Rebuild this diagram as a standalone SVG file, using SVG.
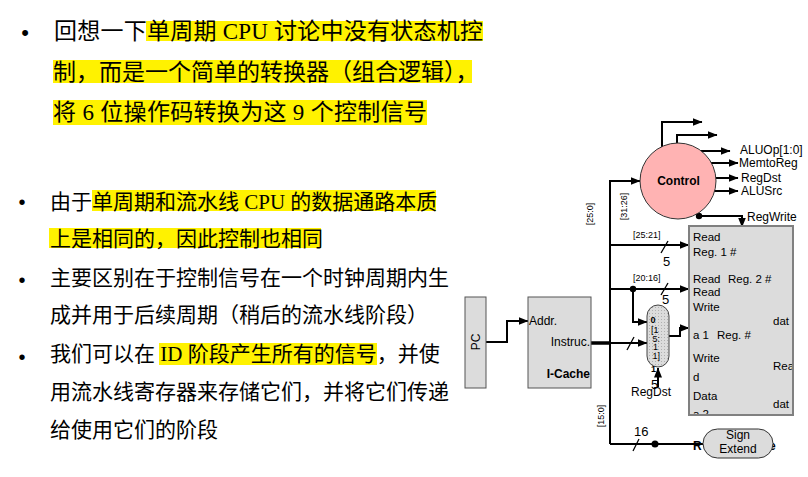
<svg xmlns="http://www.w3.org/2000/svg" width="808" height="477" viewBox="0 0 808 477">
<defs>
<marker id="ah" markerWidth="10" markerHeight="8" refX="9.5" refY="4" orient="auto" markerUnits="userSpaceOnUse"><path d="M0,0 L10,4 L0,8 z" fill="#000"/></marker>
<pattern id="dots" width="3" height="3" patternUnits="userSpaceOnUse"><rect width="3" height="3" fill="#dcdcdc"/><rect x="1" y="1" width="1" height="1" fill="#b0b0b0"/></pattern>
<clipPath id="rfclip"><rect x="689" y="226" width="104" height="189"/></clipPath>
</defs>
<style>
.t1{font-family:"Liberation Serif","Noto Sans CJK SC",serif;font-size:23px;fill:#000}
.t2{font-family:"Liberation Serif","Noto Sans CJK SC",serif;font-size:21px;fill:#000}
.bul{font-family:"Liberation Sans",sans-serif;fill:#000}
.hl{fill:#fff200}
.lbl{font-family:"Liberation Sans",Arial,sans-serif;font-size:12px;fill:#000}
.rf{font-family:"Liberation Sans",Arial,sans-serif;font-size:11.5px;fill:#000}
.sm{font-family:"Liberation Sans",Arial,sans-serif;font-size:9px;fill:#000}
.num{font-family:"Liberation Sans",Arial,sans-serif;font-size:13px;fill:#000}
.box{fill:#dcdcdc;stroke:#555;stroke-width:1}
.w{fill:none;stroke:#000;stroke-width:2}
.wa{fill:none;stroke:#000;stroke-width:2;marker-end:url(#ah)}
.sl{fill:none;stroke:#000;stroke-width:1.3}
</style>

<g id="text-block-1">
<rect class="hl" x="146" y="21" width="337" height="20"/>
<rect class="hl" x="53" y="60" width="419" height="23"/>
<rect class="hl" x="53" y="100" width="374" height="25"/>
<text class="bul" x="25" y="40" font-size="22" text-anchor="middle">•</text>
<text class="t1" x="54" y="39" textLength="429" lengthAdjust="spacing">回想一下单周期 CPU 讨论中没有状态机控</text>
<text class="t1" x="53" y="80">制，而是一个简单的转换器（组合逻辑），</text>
<text class="t1" x="53" y="120" textLength="374" lengthAdjust="spacing">将 6 位操作码转换为这 9 个控制信号</text>
</g>

<g id="text-block-2">
<rect class="hl" x="92" y="190" width="344" height="21"/>
<rect class="hl" x="49" y="228" width="272" height="20"/>
<rect class="hl" x="159" y="343" width="218" height="22"/>
<text class="bul" x="22" y="209" font-size="20" text-anchor="middle">•</text>
<text class="t2" x="50" y="209">由于单周期和流水线 CPU 的数据通路本质</text>
<text class="t2" x="50" y="246">上是相同的，因此控制也相同</text>
<text class="bul" x="22" y="287" font-size="20" text-anchor="middle">•</text>
<text class="t2" x="50" y="285">主要区别在于控制信号在一个时钟周期内生</text>
<text class="t2" x="50" y="322">成并用于后续周期（稍后的流水线阶段）</text>
<text class="bul" x="22" y="364" font-size="20" text-anchor="middle">•</text>
<text class="t2" x="50" y="361">我们可以在 ID 阶段产生所有的信号，并使</text>
<text class="t2" x="50" y="399">用流水线寄存器来存储它们，并将它们传递</text>
<text class="t2" x="50" y="437">给使用它们的阶段</text>
</g>

<g id="connectors">
<path class="wa" d="M486,342 H507 V321 H528"/>
<path d="M591,343 H610" fill="none" stroke="#000" stroke-width="3.5"/>
<path class="wa" d="M610,444 V181 H640"/>
<path class="w" d="M610,444 H703"/>
<path class="wa" d="M610,245 H689"/>
<path class="wa" d="M610,289 H689"/>
<path class="wa" d="M633,289 V322 H647"/>
<path class="wa" d="M610,343 H647"/>
<path class="wa" d="M669,336 H680 V328 H689"/>
<path class="wa" d="M658,387 V368"/>
<path class="wa" d="M662,147 V122 H702"/>
<path class="wa" d="M677,143 V135 H717"/>
<path class="wa" d="M701,151 H730"/>
<path class="wa" d="M711,163 H738"/>
<path class="wa" d="M716,178 H738"/>
<path class="wa" d="M714,191 H738"/>
<path class="wa" d="M699,216 H742 V227"/>
<circle cx="633" cy="289" r="3.2" fill="#000"/>
<circle cx="699" cy="216" r="3.2" fill="#000"/>
<circle cx="655" cy="444" r="3.5" fill="#000"/>
<path class="sl" d="M661,253 L668,241"/>
<path class="sl" d="M661,295 L668,283"/>
<path class="sl" d="M627,350 L634,337"/>
<path class="sl" d="M633,451 L639,439"/>
<text class="sm" x="633" y="238">[25:21]</text>
<text class="sm" x="633" y="281">[20:16]</text>
<text class="num" x="663" y="266">5</text>
<text class="num" x="662" y="304">5</text>
<text class="num" x="651" y="389">5</text>
<text class="num" x="634" y="436" font-size="12">16</text>
<text class="sm" transform="translate(593,214) rotate(-90)" text-anchor="middle">[25:0]</text>
<text class="sm" transform="translate(626.5,206.5) rotate(-90)" text-anchor="middle">[31:26]</text>
<text class="sm" transform="translate(604,416) rotate(-90)" text-anchor="middle">[15:0]</text>
<text class="lbl" x="740" y="154">ALUOp[1:0]</text>
<text class="lbl" x="739" y="167">MemtoReg</text>
<text class="lbl" x="741" y="182">RegDst</text>
<text class="lbl" x="741" y="195">ALUSrc</text>
<text class="lbl" x="747" y="221">RegWrite</text>
<text class="lbl" x="631" y="396" font-size="14">RegDst</text>
<text class="lbl" x="693" y="450" font-size="14" font-weight="bold">R</text>
<text class="lbl" x="769" y="450" font-size="14" font-weight="bold">e</text>
</g>

<g id="pc">
<rect class="box" x="465" y="297" width="21" height="91"/>
<text class="lbl" font-size="13" transform="translate(479.5,342) rotate(-90)" text-anchor="middle">PC</text>
</g>

<g id="icache">
<rect class="box" x="528" y="297" width="63" height="91"/>
<text class="lbl" x="529" y="325" font-size="11">Addr.</text>
<text class="lbl" x="590" y="346" font-size="11.5" text-anchor="end">Instruc.</text>
<text class="lbl" x="590" y="378" font-size="14" font-weight="bold" text-anchor="end">I-Cache</text>
</g>

<g id="control">
<circle cx="678" cy="181" r="38" fill="#ffb3b3" stroke="#333" stroke-width="1"/>
<text class="lbl" x="678.5" y="185" font-weight="bold" text-anchor="middle">Control</text>
</g>

<g id="regfile">
<rect x="689" y="226" width="104" height="189" fill="#dcdcdc"/>
<g clip-path="url(#rfclip)">
<text class="rf" x="693" y="241">Read</text>
<text class="rf" x="693" y="256">Reg. 1 #</text>
<text class="rf" x="693" y="283">Read <tspan x="728">Reg. 2 #</tspan></text>
<text class="rf" x="693" y="296">Read</text>
<text class="rf" x="693" y="311" font-size="11">Write</text>
<text class="rf" x="773" y="325">dat</text>
<text class="rf" x="693" y="339">a 1 <tspan x="717">Reg. #</tspan></text>
<text class="rf" x="693" y="362" font-size="11">Write</text>
<text class="rf" x="773" y="370">Rea</text>
<text class="rf" x="693" y="381" font-size="11">d</text>
<text class="rf" x="693" y="400" font-size="11">Data</text>
<text class="rf" x="773" y="408">dat</text>
<text class="rf" x="693" y="418">a 2</text>
</g>
<rect x="689" y="226" width="104" height="189" fill="none" stroke="#808080" stroke-width="2"/>
</g>

<g id="mux">
<rect x="647" y="305" width="22" height="62" rx="11" ry="11" fill="url(#dots)" stroke="#444" stroke-width="1"/>
<text class="sm" x="650.5" y="323" font-size="10" font-weight="bold">0</text>
<text class="sm" x="651" y="333" font-size="8.5">[1</text>
<text class="sm" x="652.5" y="341.5" font-size="8.5">5:</text>
<text class="sm" x="653" y="350" font-size="8.5">1</text>
<text class="sm" x="652.5" y="359" font-size="8.5">1]</text>
<text class="sm" x="651" y="372" font-size="11" font-weight="bold">1</text>
</g>

<g id="sign-extend">
<rect x="703" y="429" width="70" height="29" rx="14.5" ry="14.5" fill="#dcdcdc" stroke="#333" stroke-width="1"/>
<text class="lbl" x="738" y="439" text-anchor="middle">Sign</text>
<text class="lbl" x="738" y="453" text-anchor="middle">Extend</text>
</g>
</svg>
